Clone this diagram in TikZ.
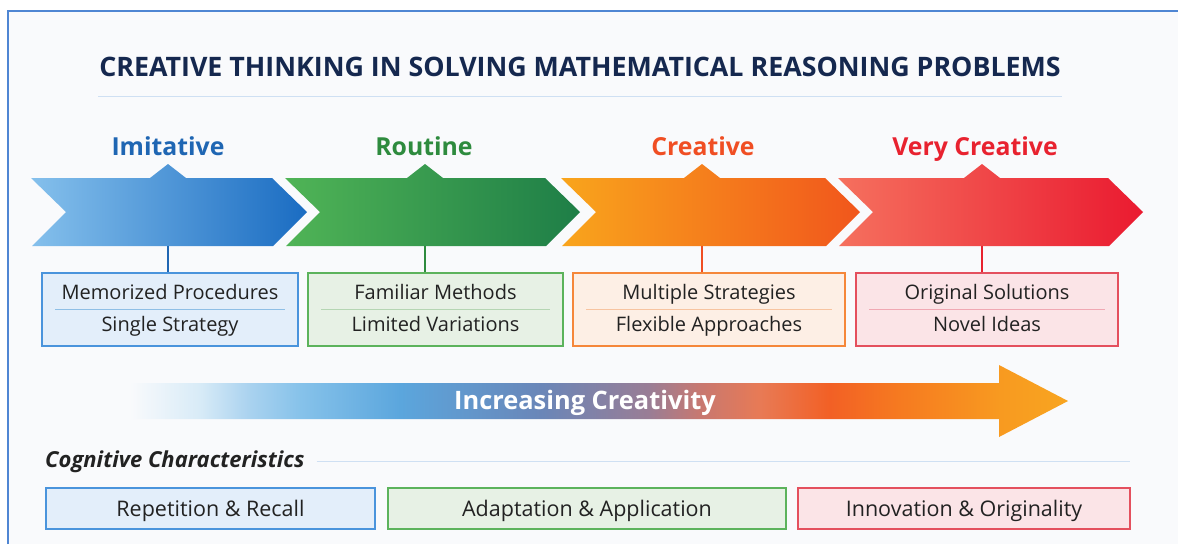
\documentclass[tikz,border=0pt]{standalone}
\usepackage{fontspec}
\setmainfont{Open Sans}
\usetikzlibrary{positioning,calc}

% palette
\definecolor{panel}{HTML}{F9FAFC}
\definecolor{framecol}{HTML}{4F86D3}
\definecolor{navy}{HTML}{15284F}
\definecolor{rulecol}{HTML}{CFE0F3}
\definecolor{inkcol}{HTML}{222222}
% imitative
\definecolor{imiL}{HTML}{85C0EC}
\definecolor{imiR}{HTML}{1A6CC2}
\definecolor{imiT}{HTML}{1F66B3}
\definecolor{imiE}{HTML}{4A94DC}
\definecolor{imiF}{HTML}{E3EEFA}
\definecolor{imiD}{HTML}{8FBFE6}
% routine
\definecolor{rouL}{HTML}{50B456}
\definecolor{rouR}{HTML}{1E7E47}
\definecolor{rouT}{HTML}{2E8B3E}
\definecolor{rouE}{HTML}{5CB35C}
\definecolor{rouF}{HTML}{E7F1E5}
\definecolor{rouD}{HTML}{B5D6B3}
% creative
\definecolor{creL}{HTML}{F9A51C}
\definecolor{creR}{HTML}{F1561C}
\definecolor{creT}{HTML}{F04E23}
\definecolor{creE}{HTML}{F5873A}
\definecolor{creF}{HTML}{FDEFE5}
\definecolor{creD}{HTML}{F7C4A0}
% very creative
\definecolor{vcrL}{HTML}{F5705E}
\definecolor{vcrR}{HTML}{EA1A30}
\definecolor{vcrT}{HTML}{E8222F}
\definecolor{vcrE}{HTML}{E4505E}
\definecolor{vcrF}{HTML}{FBE4E7}
\definecolor{vcrD}{HTML}{F0A8B3}
% creativity band
\definecolor{flowA}{HTML}{D8EBF7}
\definecolor{flowB}{HTML}{A9D2EF}
\definecolor{flowC}{HTML}{86C2EA}
\definecolor{flowD}{HTML}{5BA6DD}
\definecolor{flowE}{HTML}{6A86B8}
\definecolor{flowF}{HTML}{9A7D95}
\definecolor{flowG}{HTML}{C87870}
\definecolor{flowH}{HTML}{E87A55}
\definecolor{flowI}{HTML}{F26025}
\definecolor{flowJ}{HTML}{F67A20}
\definecolor{flowK}{HTML}{F89A20}
\definecolor{flowL}{HTML}{F8A520}

\pgfdeclarehorizontalshading{creativity}{100bp}{color(0bp)=(panel);
  color(25bp)=(panel); color(28.7bp)=(flowA); color(31.4bp)=(flowB);
  color(34.1bp)=(flowC); color(39.4bp)=(flowD); color(46.9bp)=(flowE);
  color(52.7bp)=(flowF); color(55.4bp)=(flowG); color(58.6bp)=(flowH);
  color(62.3bp)=(flowI); color(66bp)=(flowJ); color(71.4bp)=(flowK);
  color(75bp)=(flowL); color(100bp)=(flowL)}

\tikzset{
  titletext/.style={font=\fontsize{26.8}{30}\selectfont\bfseries, text=navy, inner sep=0pt, anchor=base},
  stagelabel/.style={font=\fontsize{24.8}{28}\selectfont\bfseries, inner sep=0pt, anchor=base},
  card/.style={draw, line width=1.4pt, minimum width=#1, minimum height=73pt, inner sep=0pt},
  cardtext/.style={font=\fontsize{20}{23}\selectfont, text=inkcol, inner sep=0pt, anchor=base},
  flowtext/.style={font=\fontsize{25.4}{29}\selectfont\bfseries, text=white, inner sep=0pt, anchor=base},
  traitbox/.style={draw, line width=1.4pt, minimum width=#1, minimum height=41pt, inner sep=0pt},
}

\begin{document}
\begin{tikzpicture}[x=1pt,y=-1pt]
    \useasboundingbox (0,0) rectangle (1178,544);

    % Frame and panel
    \fill[white] (0,0) rectangle (1178,544);
    \fill[panel] (8,11) rectangle (1178,544);
    \draw[framecol, line width=1.6pt] (8,544) -- (8,11) -- (1178,11);

    % Title
    \node[titletext] (title) at (580,76.5) {CREATIVE THINKING IN SOLVING MATHEMATICAL REASONING PROBLEMS};
    \draw[rulecol, line width=1pt] (98,96) -- (1062,96);

    % Stages: chevron, label, link and card
    \foreach \i/\xa/\xb/\xm/\xl/\bl/\br/\col/\name/\ta/\tb in {
        1/31/272/168/168/42/298/imi/Imitative/Memorized Procedures/Single Strategy,
        2/285/545/425/424/308/563/rou/Routine/Familiar Methods/Limited Variations,
        3/561/825/702/703/573/845/cre/Creative/Multiple Strategies/Flexible Approaches,
        4/838/1108/982/975/856/1118/vcr/Very Creative/Original Solutions/Novel Ideas} {
        \shade[left color=\col L, right color=\col R]
            (\xa,178) -- (\xm-18,178) -- (\xm,164) -- (\xm+18,178) -- (\xb,178)
            -- (\xb+35,212) -- (\xb+1,246) -- (\xa+1,246) -- (\xa+35,212) -- cycle;
        \node[stagelabel, text=\col T] (label\i) at (\xl,155.5) {\name};
        \coordinate (tab\i) at (\xm,246);
        \node[card=\br-\bl, draw=\col E, fill=\col F] (card\i) at ({(\bl+\br)/2},309.5) {};
        \draw[\col T, line width=1.8pt] (tab\i) -- (tab\i |- card\i.north);
        \node[cardtext] (top\i) at ($(card\i.center)+(0,-10)$) {\ta};
        \node[cardtext] (bot\i) at ($(card\i.center)+(0,21.5)$) {\tb};
        \draw[\col D, line width=0.9pt] ($(card\i.west)+(14,0)$) -- ($(card\i.east)+(-14,0)$);
    }

    % Increasing creativity band
    \shade[shading=creativity] (130,383) -- (999,383) -- (999,365) -- (1068,401)
        -- (999,437) -- (999,419) -- (130,419) -- cycle;
    \node[flowtext] (flow) at (585,409) {Increasing Creativity};

    % Cognitive characteristics
    \node[anchor=base west, inner sep=0pt, text=inkcol,
        font=\fontsize{22}{25}\selectfont\bfseries\itshape] (cog) at (45,467.5) {Cognitive Characteristics};
    \coordinate (cogend) at (1130,461);
    \draw[rulecol, line width=1pt] (cog.east |- cogend) ++(12,0) -- (cogend);

    \foreach \j/\bl/\br/\col/\txt in {
        1/46/375/imi/Repetition \& Recall,
        2/388/786/rou/Adaptation \& Application,
        3/798/1130/vcr/Innovation \& Originality} {
        \node[traitbox=\br-\bl, draw=\col E, fill=\col F] (trait\j) at ({(\bl+\br)/2},508.5) {};
        \node[cardtext, font=\fontsize{21.5}{25}\selectfont] (traittext\j) at ($(trait\j.center)+(0,7.7)$) {\txt};
    }
\end{tikzpicture}
\end{document}
